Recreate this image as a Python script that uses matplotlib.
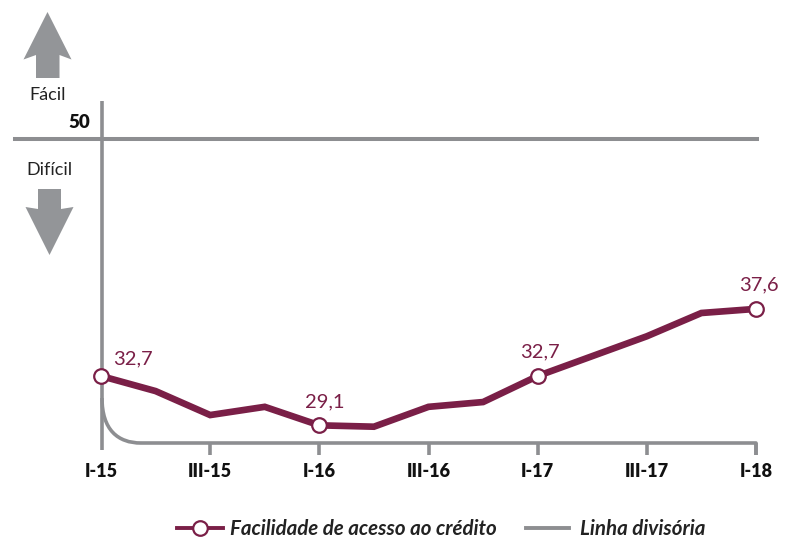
import numpy as np
import matplotlib
matplotlib.use('Agg')
import matplotlib.pyplot as plt
from matplotlib.patches import Polygon, PathPatch
from matplotlib.path import Path
from matplotlib.transforms import Affine2D

# quarters, I-15 to I-18
quarters = np.arange(13)
credit = [32.7, 31.6, 29.85, 30.45, 29.1, 29.0, 30.45, 30.8, 32.7, 34.15, 35.6, 37.3, 37.6]
labelled = [0, 4, 8, 12]
tick_pos = [0, 2, 4, 6, 8, 10, 12]
tick_labels = ['I-15', 'III-15', 'I-16', 'III-16', 'I-17', 'III-17', 'I-18']
divider = 50

WINE = '#7a1f47'
GREY = '#8d8e91'
ARROW = '#939598'
W, H = 790, 538

plt.rcParams['font.family'] = ['Lato', 'DejaVu Sans']

fig = plt.figure(figsize=(W / 100, H / 100), dpi=100)
# axes box runs from x=101 to x=756 and y=101 to y=443 in image pixels
ax = fig.add_axes([101 / W, 1 - 443 / H, (756 - 101) / W, (443 - 101) / H])
ax.set_xlim(0, 12)
ax.set_ylim(50 - (443 - 139) / 13.7, 50 + (139 - 101) / 13.7)
for s in ax.spines.values():
    s.set_visible(False)
ax.patch.set_alpha(0)

# pixel coordinates, origin top left, for the decoration
px = Affine2D().scale(1, -1).translate(0, H)

ax.axhline(divider, color=GREY, lw=2.9, xmin=-86 / 655, xmax=1.002, clip_on=False, zorder=1)
ax.plot([1 / 54.6, 1 / 54.6], [ax.get_ylim()[0] - 7 / 13.7, ax.get_ylim()[1]], color=GREY, lw=2.6,
        clip_on=False, zorder=1, solid_capstyle='butt')

curve = Path([(102, 398), (102, 430), (118, 443), (141, 443), (756, 443), (756, 455)],
             [Path.MOVETO, Path.CURVE4, Path.CURVE4, Path.CURVE4, Path.LINETO, Path.LINETO])
fig.add_artist(PathPatch(curve, fc='none', ec=GREY, lw=2.6, transform=px, capstyle='butt', joinstyle='round'))

ax.set_xticks(tick_pos)
ax.set_xticklabels(tick_labels, fontweight='heavy', fontsize=13, color='#111111')
ax.set_yticks([])
ax.tick_params(axis='x', length=8.5, width=2.6, color=GREY, pad=6)
ax.xaxis.get_majorticklines()[0].set_visible(False)

ax.plot(quarters, credit, color=WINE, lw=4.8, clip_on=False, zorder=3, solid_joinstyle='miter')
ax.plot(quarters[labelled], np.array(credit)[labelled], ls='', marker='o', ms=10.5, mfc='white',
        mec=WINE, mew=1.6, clip_on=False, zorder=4)

offsets = {0: (12, 9), 4: (5, 15), 8: (2, 16), 12: (3, 16)}
for i in labelled:
    ax.annotate(f'{credit[i]:.1f}'.replace('.', ','), (quarters[i], credit[i]), xytext=offsets[i],
                textcoords='offset pixels', color=WINE, fontsize=14.5, ha='left' if i == 0 else 'center',
                va='bottom', annotation_clip=False)

up = [(47.5, 12), (71.5, 59.5), (59.5, 55), (59.5, 78), (36, 78), (36, 55), (23.5, 59.5)]
down = [(38, 189), (61, 189), (61, 209), (73.5, 207), (49.5, 255), (25.5, 207), (38, 209)]
fig.add_artist(Polygon(up, fc=ARROW, ec='none', transform=px))
fig.add_artist(Polygon(down, fc=ARROW, ec='none', transform=px))

fig.text(48 / W, 1 - 95 / H, 'Fácil', ha='center', va='center', fontsize=13, color='#222222')
fig.text(49.5 / W, 1 - 170 / H, 'Difícil', ha='center', va='center', fontsize=13, color='#222222')
fig.text(90 / W, 1 - 123 / H, '50', ha='right', va='center', fontsize=13.5, fontweight='heavy', color='#111111')

# legend
fig.add_artist(plt.Line2D([177 / W, 223 / W], [1 - 528 / H] * 2, color=WINE, lw=2.8))
fig.add_artist(plt.Line2D([200 / W], [1 - 528 / H], marker='o', ms=10.5, mfc='white', mec=WINE, mew=1.6, ls=''))
fig.add_artist(plt.Line2D([526 / W, 569 / W], [1 - 528 / H] * 2, color=GREY, lw=2.8))
fig.text(230 / W, 1 - 529 / H, 'Facilidade de acesso ao crédito', ha='left', va='center', fontsize=14.8,
         fontweight='bold', style='italic', color='#222222')
fig.text(580 / W, 1 - 529 / H, 'Linha divisória', ha='left', va='center', fontsize=14.8,
         fontweight='bold', style='italic', color='#222222')

fig.savefig('out.png', dpi=100)
